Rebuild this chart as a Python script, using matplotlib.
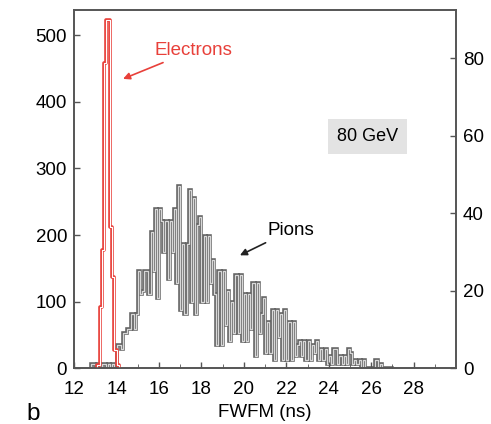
import numpy as np
import matplotlib
matplotlib.use("Agg")
import matplotlib.pyplot as plt

plt.rcParams['font.family'] = ['Liberation Sans', 'DejaVu Sans']

# electron counts (left axis), 0.1 ns bins starting at 13.1 ns
e_start = 13.1
electrons = [5, 92, 177, 459, 523, 523, 212, 137, 27, 4]

# pion counts (right axis), 0.1 ns bins starting at 12.8 ns
p_start = 12.8
pions = [1, 1, 0, 1, 0, 1, 1, 0, 1, 0, 1, 0,
         6, 6, 5, 9, 9, 10, 10, 14, 10, 14,
         25, 19, 20, 25, 25, 19, 35, 25, 41, 18,
         41, 38, 30, 38, 23, 38, 30, 41, 22, 47,
         15, 32, 14, 32, 46, 17, 44, 14, 37, 39,
         17, 34, 17, 34, 22, 28, 19, 6, 25, 6,
         25, 11, 20, 7, 17, 9, 24, 9, 24, 7,
         19, 7, 19, 10, 22, 3, 22, 9, 14, 18,
         4, 12, 4, 15, 2, 15, 8, 14, 2, 15,
         2, 12, 2, 12, 3, 6, 7, 3, 7, 2,
         7, 2, 6, 4, 7, 2, 5, 2, 5, 1,
         3, 1, 5, 5, 1, 3, 1, 3, 1, 5,
         4, 1, 2, 1, 2, 0, 2, 0, 0, 0,
         0, 0, 2, 0, 1, 0, 0, 0, 0, 0]


def step_xy(start, counts):
    # outline of a histogram: from baseline up through every bin and back down
    edges = start + 0.1 * np.arange(len(counts) + 1)
    x = np.repeat(edges, 2)
    y = np.concatenate([[0], np.repeat(counts, 2), [0]])
    return x, y


fig = plt.figure(figsize=(4.91, 4.24), dpi=100)
ax = fig.add_axes([0.151, 0.132, 0.778, 0.844])
ax2 = ax.twinx()

# pions on the right axis, drawn as a "tube" line
px, py = step_xy(p_start, pions)
ax2.plot(px, py, color='#666666', lw=2.6, solid_joinstyle='miter')
ax2.plot(px, py, color='#d8d8d8', lw=0.9)
ax2.set_ylim(0, 92.4)
ax2.set_yticks([0, 20, 40, 60, 80])

# electrons on the left axis, drawn in front
ax.set_zorder(ax2.get_zorder() + 1)
ax.patch.set_visible(False)
ex, ey = step_xy(e_start, electrons)
ax.plot(ex, ey, color='#e8403a', lw=2.6)
ax.plot(ex, ey, color='white', lw=0.8)
ax.set_ylim(0, 538)
ax.set_xlim(12, 30)
ax.set_yticks([0, 100, 200, 300, 400, 500])
ax.set_xticks([12, 14, 16, 18, 20, 22, 24, 26, 28])
ax.set_xticks(np.arange(13, 30, 2), minor=True)

for a in (ax, ax2):
    for s in a.spines.values():
        s.set_color('#555555')
        s.set_linewidth(1.2)
    a.tick_params(direction='in', length=4, width=1, color='#555555',
                  labelsize=13.5, pad=5)
ax.tick_params(axis='x', pad=9)
ax.tick_params(axis='x', which='minor', direction='in', length=3, color='#555555')

ax.set_xlabel('FWFM (ns)', fontsize=13.5, labelpad=5)
fig.text(0.053, 0.01, 'b', fontsize=17.5)

ax.annotate('Electrons', xy=(0.128, 0.808), xycoords='axes fraction',
            xytext=(0.21, 0.888), textcoords='axes fraction',
            color='#e8403a', fontsize=13.5, va='center',
            arrowprops=dict(arrowstyle='-|>', color='#e8403a', lw=1.2,
                            mutation_scale=10, shrinkA=2, shrinkB=0))
ax.annotate('Pions', xy=(0.434, 0.315), xycoords='axes fraction',
            xytext=(0.507, 0.385), textcoords='axes fraction',
            color='black', fontsize=13.5, va='center',
            arrowprops=dict(arrowstyle='-|>', color='#222222', lw=1.2,
                            mutation_scale=10, shrinkA=2, shrinkB=0))
ax.text(0.767, 0.648, '80 GeV', transform=ax.transAxes, fontsize=13,
        ha='center', va='center',
        bbox=dict(boxstyle='square,pad=0.5', fc='#e3e3e3', ec='none'))

fig.savefig('out.png', dpi=100)
